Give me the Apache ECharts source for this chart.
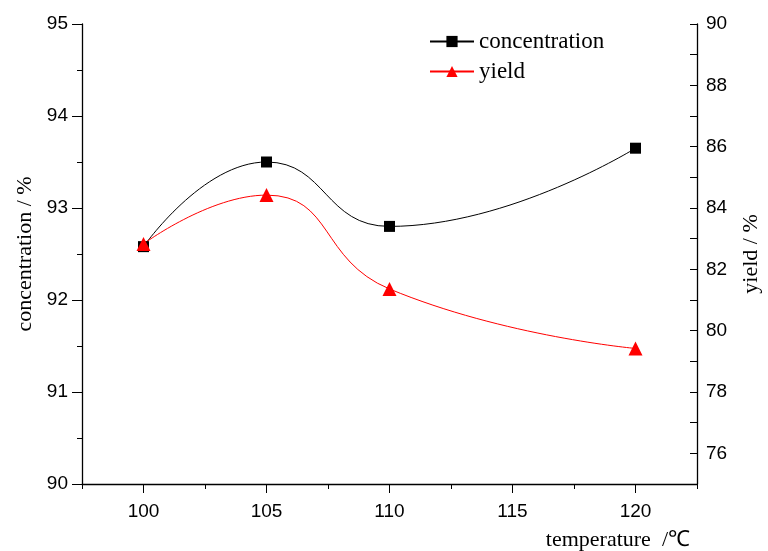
<!DOCTYPE html>
<html>
<head>
<meta charset="utf-8">
<script src="https://cdn.jsdelivr.net/npm/echarts@6/dist/echarts.min.js"></script>
<style>html,body{margin:0;padding:0;background:#fff}#c{width:768px;height:551px}</style>
</head>
<body>
<div id="c"></div>
<script>
var temperatures = [100, 105, 110, 120];
var concentration = [92.58, 93.50, 92.80, 93.65];
var yieldValues = [82.83, 84.42, 81.36, 79.42];
var xLabelValues = [100, 105, 110, 115, 120];

var SANS = 'Liberation Sans, Arial, sans-serif';
var SERIF = 'Liberation Serif, Times New Roman, serif';

function pairs(xs, ys) { return xs.map(function (x, i) { return [x, ys[i]]; }); }

var chart = echarts.init(document.getElementById('c'), null, {renderer: 'canvas'});
chart.setOption({
  animation: false,
  backgroundColor: '#fff',
  grid: {left: 82, right: 71, top: 24, bottom: 67, containLabel: false, outerBoundsMode: 'none'},
  legend: {
    orient: 'vertical', left: 424, top: 25, itemGap: 7,
    itemWidth: 44, itemHeight: 14,
    textStyle: {fontFamily: SERIF, fontSize: 23, color: '#000'},
    data: ['concentration', 'yield']
  },
  xAxis: [{
    type: 'value', min: 97.5, max: 122.5, interval: 2.5, position: 'bottom',
    axisLine: {lineStyle: {color: '#000', width: 1.3}},
    axisTick: {inside: false, length: 5, lineStyle: {color: '#000'}},
    axisLabel: {show: false},
    splitLine: {show: false}
  }, {
    type: 'value', min: 97.5, max: 122.5, position: 'bottom',
    axisLine: {show: false},
    axisTick: {inside: false, length: 9, customValues: xLabelValues, lineStyle: {color: '#000'}},
    axisLabel: {customValues: xLabelValues, margin: 18, fontFamily: SANS, fontSize: 19, color: '#000'},
    splitLine: {show: false},
    name: 'temperature  /\u2103', nameLocation: 'end', nameGap: -7,
    nameTextStyle: {fontFamily: SERIF, fontSize: 22, color: '#000', align: 'right', verticalAlign: 'top', padding: [45, 0, 0, 0]}
  }],
  yAxis: [{
    type: 'value', min: 90, max: 95, interval: 1, position: 'left',
    axisLine: {show: true, lineStyle: {color: '#000', width: 1.3}},
    axisTick: {show: true, inside: false, length: 10, lineStyle: {color: '#000'}},
    minorTick: {show: true, splitNumber: 2, length: 5, lineStyle: {color: '#000'}},
    axisLabel: {margin: 14, fontFamily: SANS, fontSize: 19, color: '#000'},
    splitLine: {show: false},
    name: 'concentration / %', nameLocation: 'middle', nameGap: 44, nameRotate: 90,
    nameTextStyle: {fontFamily: SERIF, fontSize: 22, color: '#000'}
  }, {
    type: 'value', min: 75, max: 90, interval: 1, position: 'right',
    axisLine: {show: true, lineStyle: {color: '#000', width: 1.3}},
    axisTick: {show: true, inside: true, length: 7, lineStyle: {color: '#000'}},
    axisLabel: {margin: 9, fontFamily: SANS, fontSize: 19, color: '#000',
      formatter: function (v) { return v % 2 === 0 ? String(v) : ''; }},
    splitLine: {show: false},
    name: 'yield / %', nameLocation: 'middle', nameGap: 43, nameRotate: 90,
    nameTextStyle: {fontFamily: SERIF, fontSize: 22, color: '#000'}
  }],
  series: [{
    name: 'concentration', type: 'line', xAxisIndex: 0, yAxisIndex: 0,
    data: pairs(temperatures, concentration),
    smooth: 0.5, symbol: 'rect', symbolSize: 11,
    lineStyle: {color: '#000', width: 1},
    itemStyle: {color: '#000'}
  }, {
    name: 'yield', type: 'line', xAxisIndex: 0, yAxisIndex: 1,
    data: pairs(temperatures, yieldValues),
    smooth: 0.5, symbol: 'triangle', symbolSize: 14,
    lineStyle: {color: '#ff0000', width: 1},
    itemStyle: {color: '#ff0000'}
  }]
});
</script>
</body>
</html>
